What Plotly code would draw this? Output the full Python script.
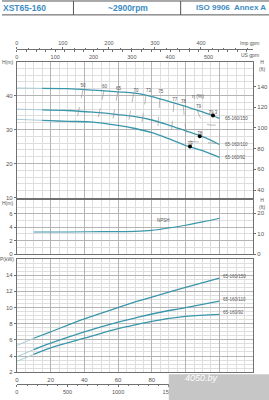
import plotly.graph_objects as go

# ---------------- data ----------------
q_head = [0, 15, 30, 45, 60, 70, 80, 90, 100, 110, 120]
h_150 = [42.2, 42.1, 42.0, 41.6, 41.1, 40.7, 39.7, 38.3, 36.8, 35.2, 33.3]
h_110 = [36.0, 35.8, 35.6, 35.1, 34.4, 33.8, 32.8, 31.3, 29.6, 27.9, 25.6]
h_92 = [33.0, 32.7, 32.4, 32.2, 31.2, 30.3, 29.1, 27.3, 25.3, 23.8, 21.8]
curve_names = ["65-160/150", "65-160/110", "65-160/92"]

q_npsh = [10, 30, 50, 70, 80, 90, 100, 110, 120]
npsh = [3.3, 3.3, 3.35, 3.4, 3.55, 3.9, 4.3, 4.8, 5.35]

q_pow = [0, 10, 20, 40, 60, 70, 80, 100, 120]
p_150 = [5.3, 6.2, 7.0, 8.6, 10.0, 10.7, 11.3, 12.5, 13.65]
p_110 = [3.9, 4.8, 5.6, 7.0, 8.2, 8.7, 9.2, 10.0, 10.8]
p_92 = [3.35, 4.2, 5.0, 6.2, 7.4, 7.85, 8.3, 8.9, 9.15]

bep_q = [116.2, 108.4, 102.6]
bep_h = [34.1, 28.0, 25.0]
bep_eff = ["79.3", "78", "79"]

eff_levels = ["50", "60", "65", "70", "73", "75", "77", "78", "79"]
eff_q = [[39.2, 35.3], [51.6, 47.6], [59.8, 56.3], [69.2, 65.7], [76.5, 73.5],
         [84.7, 83.3], [93.1, 91.2],
         [98.6, 99.5, 100.5, 102.5, 108, 116, 120],
         [106.9, 108.8, 111.8, 117.6, 120.5]]
eff_h = [[41.8, 32.3], [41.4, 32.0], [41.1, 31.5], [40.7, 30.8], [40.0, 30.0],
         [39.0, 28.5], [37.8, 27.1],
         [37.0, 32.5, 28.9, 26.8, 26.3, 26.0, 25.8],
         [35.7, 33.4, 31.7, 31.3, 31.6]]
eff_label_q = [39.2, 51.9, 60.2, 70.6, 78.0, 85.3, 93.5, 98.8, 107.6]
eff_label_h = [42.7, 42.6, 42.0, 41.3, 41.5, 41.0, 38.8, 38.1, 36.6]

main_ticks = [10, 20, 30, 40]
ft_ticks = [40, 60, 80, 100, 120, 140]
npsh_ticks = [0, 2, 4, 6]
npsh_ft_ticks = [0, 10, 20]
pow_ticks = [2, 4, 6, 8, 10, 12, 14]
q_grid = [0, 20, 40, 60, 80, 100, 120]
q_labels = [0, 20, 40, 60, 80]          # 100, 120 hidden under the watermark
imp_ticks = [0, 100, 200, 300, 400]
us_ticks = [0, 100, 200, 300, 400, 500]
lmin_ticks = [0, 500, 1000, 1500]

M_TO_FT = 3.28084
M3H_TO_IMP = 3.6662
M3H_TO_US = 4.40287
M3H_TO_LMIN = 16.6667

# ---------------- layout helpers ----------------
W, H = 269, 400
def px(x): return x / W
def py(y): return 1 - y / H

CURVE = "#3a97ab"
FAINT = "#a8cad4"
GRID_MAJ = "#b4b4b4"
GRID_MIN = "#dedede"
BORDER = "#707070"
TXT = "#555555"
FONT = "Liberation Sans, Arial, sans-serif"

fig = go.Figure()

def split(qs, vs, cut):
    lo = [(q, v) for q, v in zip(qs, vs) if q <= cut]
    hi = [(q, v) for q, v in zip(qs, vs) if q >= cut]
    return lo, hi

# head curves
for vals in (h_150, h_110, h_92):
    lo, hi = split(q_head, vals, 15)
    fig.add_trace(go.Scatter(x=[a for a, _ in lo], y=[b for _, b in lo], mode="lines",
                             line=dict(color=FAINT, width=1, shape="spline"),
                             xaxis="x", yaxis="y", hoverinfo="skip"))
    fig.add_trace(go.Scatter(x=[a for a, _ in hi], y=[b for _, b in hi], mode="lines",
                             line=dict(color=CURVE, width=1.3, shape="spline"),
                             xaxis="x", yaxis="y", hoverinfo="skip"))

# efficiency lines
for qs, hs in zip(eff_q, eff_h):
    fig.add_trace(go.Scatter(x=qs, y=hs, mode="lines",
                             line=dict(color="#8c8c8c", width=0.6, dash="dash", shape="spline"),
                             xaxis="x", yaxis="y", hoverinfo="skip"))
fig.add_trace(go.Scatter(x=eff_label_q, y=eff_label_h, mode="text", text=eff_levels,
                         textfont=dict(size=4.5, color=TXT, family=FONT),
                         xaxis="x", yaxis="y", hoverinfo="skip"))

# BEP points
fig.add_trace(go.Scatter(x=bep_q, y=bep_h, mode="markers",
                         marker=dict(color="black", size=4),
                         xaxis="x", yaxis="y", hoverinfo="skip"))
fig.add_trace(go.Scatter(x=bep_q, y=bep_h, mode="text", text=bep_eff,
                         textposition="top center",
                         textfont=dict(size=4.5, color=TXT, family=FONT),
                         xaxis="x", yaxis="y", hoverinfo="skip"))

# curve labels (main)
for name, vals in zip(curve_names, (h_150, h_110, h_92)):
    fig.add_annotation(x=q_head[-1] + 2, y=vals[-1], text=name, showarrow=False,
                       xref="x", yref="y", xanchor="left", yanchor="middle",
                       font=dict(size=4.5, color=TXT, family=FONT))
fig.add_annotation(x=eff_label_q[-1], y=39.8, text="η (%)", showarrow=False,
                   xref="x", yref="y", font=dict(size=5, color=TXT, family=FONT))

# NPSH
fig.add_trace(go.Scatter(x=q_npsh, y=npsh, mode="lines",
                         line=dict(color=CURVE, width=1.2, shape="spline"),
                         xaxis="x2", yaxis="y2", hoverinfo="skip"))
fig.add_annotation(x=87, y=5.0, text="NPSH", showarrow=False, xref="x2", yref="y2",
                   font=dict(size=4.5, color=TXT, family=FONT))

# Power
for name, vals in zip(curve_names, (p_150, p_110, p_92)):
    lo, hi = split(q_pow, vals, 10)
    fig.add_trace(go.Scatter(x=[a for a, _ in lo], y=[b for _, b in lo], mode="lines",
                             line=dict(color=FAINT, width=1, shape="spline"),
                             xaxis="x3", yaxis="y3", hoverinfo="skip"))
    fig.add_trace(go.Scatter(x=[a for a, _ in hi], y=[b for _, b in hi], mode="lines",
                             line=dict(color=CURVE, width=1.3, shape="spline"),
                             xaxis="x3", yaxis="y3", hoverinfo="skip"))
    fig.add_annotation(x=q_pow[-1] + 1, y=vals[-1], yshift=2, text=name, showarrow=False,
                       xref="x3", yref="y3", xanchor="left", yanchor="middle",
                       font=dict(size=4.5, color=TXT, family=FONT))

# invisible helper traces for secondary unit axes
inv = dict(mode="lines", opacity=0, hoverinfo="skip", line=dict(width=0))
fig.add_trace(go.Scatter(x=q_head, y=[h * M_TO_FT for h in h_150], xaxis="x", yaxis="y4", **inv))
fig.add_trace(go.Scatter(x=q_npsh, y=[v * M_TO_FT for v in npsh], xaxis="x2", yaxis="y5", **inv))
fig.add_trace(go.Scatter(x=[q * M3H_TO_IMP for q in q_head], y=h_150, xaxis="x4", yaxis="y", **inv))
fig.add_trace(go.Scatter(x=[q * M3H_TO_US for q in q_head], y=h_150, xaxis="x5", yaxis="y", **inv))
fig.add_trace(go.Scatter(x=[q * M3H_TO_LMIN for q in q_pow], y=p_150, xaxis="x6", yaxis="y3", **inv))

tickfont = dict(size=6, color=TXT, family=FONT)
xdom = [px(15), px(253)]

def xax(show_labels, anchor):
    return dict(domain=xdom, range=[0, 140], anchor=anchor, showticklabels=False,
                tickvals=q_grid, ticks="",
                showgrid=True, gridcolor=GRID_MAJ, gridwidth=0.8,
                minor=dict(dtick=5, showgrid=True, gridcolor=GRID_MIN, gridwidth=0.5),
                showline=True, linecolor=BORDER, linewidth=1, mirror=True, zeroline=False,
                fixedrange=True)

def yax(dom, rng, tv, mdt):
    return dict(domain=dom, range=rng, tickvals=tv, ticks="outside", ticklen=2,
                tickcolor=BORDER, tickfont=tickfont,
                showgrid=True, gridcolor=GRID_MAJ, gridwidth=0.8,
                minor=dict(dtick=mdt, showgrid=True, gridcolor=GRID_MIN, gridwidth=0.5),
                showline=True, linecolor=BORDER, linewidth=1, mirror=True, zeroline=False,
                fixedrange=True)

fig.update_layout(
    width=W, height=H, autosize=False,
    margin=dict(l=0, r=0, t=0, b=0),
    paper_bgcolor="white", plot_bgcolor="white",
    showlegend=False,
    xaxis=xax(False, "y"),
    xaxis2=dict(xax(False, "y2"), matches="x"),
    xaxis3=dict(xax(False, "y3"), matches="x"),
    yaxis=yax([py(199), py(62)], [10, 50], main_ticks, 2),
    yaxis2=yax([py(256), py(202)], [0, 8], npsh_ticks, 1),
    yaxis3=yax([py(375), py(261)], [2, 16], pow_ticks, 0.5),
    yaxis4=dict(overlaying="y", side="right", anchor="x", range=[10 * M_TO_FT, 50 * M_TO_FT],
                tickvals=ft_ticks, ticks="outside", ticklen=2, tickcolor=BORDER,
                tickfont=tickfont, showgrid=False, zeroline=False, showline=False),
    yaxis5=dict(overlaying="y2", side="right", anchor="x2", range=[0, 8 * M_TO_FT],
                tickvals=npsh_ft_ticks, ticks="outside", ticklen=2, tickcolor=BORDER,
                tickfont=tickfont, showgrid=False, zeroline=False, showline=False),
    xaxis4=dict(overlaying="x", anchor="free", position=py(49.5), side="top",
                range=[0, 140 * M3H_TO_IMP], tickvals=imp_ticks, ticks="outside", ticklen=2,
                tickcolor=BORDER, tickfont=dict(size=5.5, color=TXT, family=FONT),
                minor=dict(dtick=25, ticks="outside", ticklen=1.5, tickcolor=BORDER),
                showgrid=False, zeroline=False, showline=True, linecolor=BORDER, linewidth=0.8),
    xaxis5=dict(overlaying="x", anchor="free", position=py(49.5), side="bottom",
                range=[0, 140 * M3H_TO_US], tickvals=us_ticks, ticks="outside", ticklen=2,
                tickcolor=BORDER, tickfont=dict(size=5.5, color=TXT, family=FONT),
                minor=dict(dtick=25, ticks="outside", ticklen=1.5, tickcolor=BORDER),
                showgrid=False, zeroline=False, showline=False),
    xaxis6=dict(overlaying="x3", anchor="free", position=py(387), side="bottom",
                range=[0, 140 * M3H_TO_LMIN], tickvals=lmin_ticks, ticks="outside", ticklen=2,
                tickcolor=BORDER, tickfont=dict(size=5.5, color=TXT, family=FONT),
                minor=dict(dtick=100, ticks="outside", ticklen=1.5, tickcolor=BORDER),
                showgrid=False, zeroline=False, showline=True, linecolor=BORDER, linewidth=0.8),
    # m3/h labels below power panel
    xaxis7=dict(overlaying="x3", anchor="free", position=py(375), side="bottom",
                range=[0, 140], tickvals=q_labels, ticks="outside", ticklen=2,
                tickcolor="rgba(0,0,0,0)", tickfont=tickfont,
                showgrid=False, zeroline=False, showline=False),
)
fig.add_trace(go.Scatter(x=q_pow, y=p_150, xaxis="x7", yaxis="y3", **inv))

# unit labels
small = dict(size=5, color=TXT, family=FONT)
def ann(x, y, text, xanchor="center", font=small):
    fig.add_annotation(x=px(x), y=py(y), xref="paper", yref="paper", text=text,
                       showarrow=False, xanchor=xanchor, yanchor="middle", font=font)

ann(261, 43, "Imp gpm", "right")
ann(261, 55, "US gpm", "right")
ann(6, 62, "H(m)")
ann(6, 205, "H(m)")
ann(5, 261, "P(kW)")
ann(262, 66, "H<br>(ft)")
ann(262, 205, "H<br>(ft)")

# header
HEAD = "#3d8cc4"
hfont = dict(size=8.5, color=HEAD, family=FONT)
for (x0, y0, x1, y1) in [(0, 1, 269, 1), (0, 15, 269, 15), (72, 1, 72, 15), (180, 1, 180, 15)]:
    fig.add_shape(type="line", xref="paper", yref="paper", x0=px(x0), y0=py(y0),
                  x1=px(x1), y1=py(y1), line=dict(color="#555555", width=1))
fig.add_annotation(x=px(-1), y=py(8), xref="paper", yref="paper", text="<b>XST65-160</b>",
                   showarrow=False, xanchor="left", yanchor="middle", font=hfont)
fig.add_annotation(x=px(127), y=py(8), xref="paper", yref="paper", text="<b>~2900rpm</b>",
                   showarrow=False, xanchor="center", yanchor="middle", font=hfont)
fig.add_annotation(x=px(268), y=py(8), xref="paper", yref="paper",
                   text="<b>ISO 9906  Annex A</b>",
                   showarrow=False, xanchor="right", yanchor="middle",
                   font=dict(size=8, color=HEAD, family=FONT))

# watermark
fig.add_shape(type="rect", xref="paper", yref="paper", x0=px(168), x1=1.01, y0=-0.01,
              y1=py(377), fillcolor="#c6c6c6", line=dict(width=0), layer="above")
fig.add_annotation(x=px(220), y=py(388), xref="paper", yref="paper", text="<i>4050.by</i>",
                   showarrow=False, font=dict(size=9, color="white", family=FONT))

fig.write_html("out.html")
